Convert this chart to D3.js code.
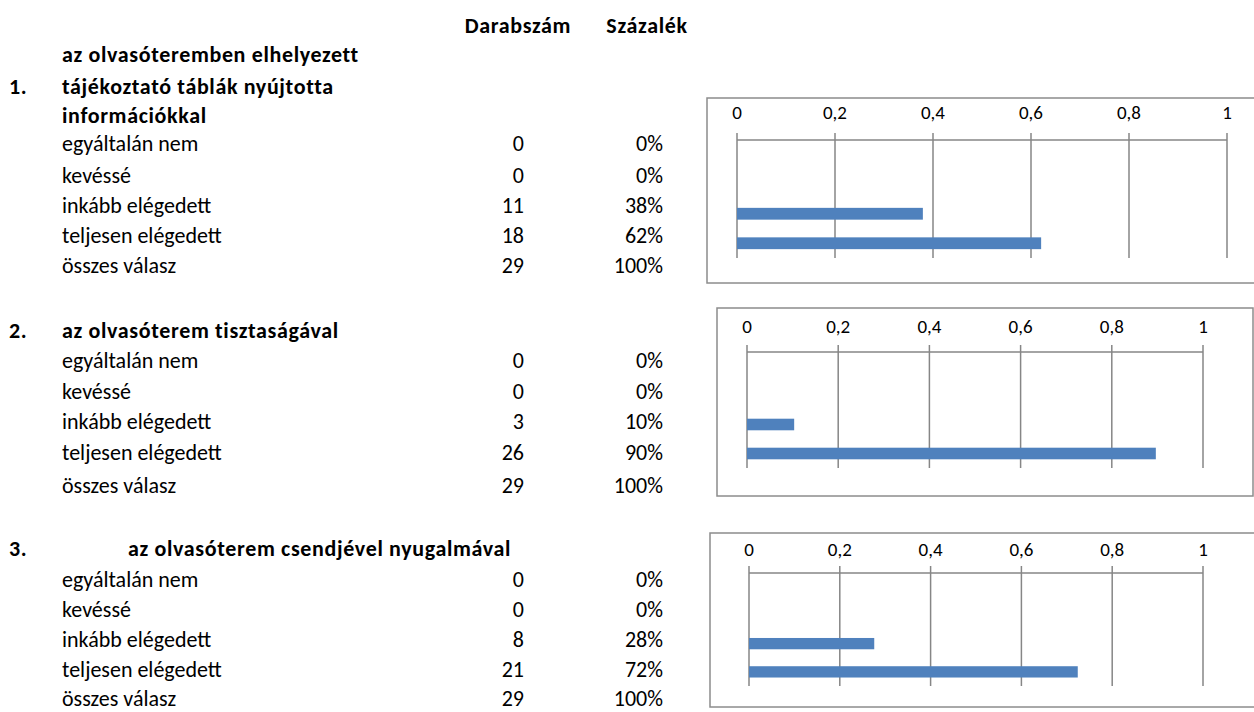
<!DOCTYPE html>
<html>
<head>
<meta charset="utf-8">
<script src="https://cdn.jsdelivr.net/npm/d3@7"></script>
<style>
  body { margin: 0; background: #fff; }
  svg { display: block; font-family: Carlito, Calibri, Lato, 'Liberation Sans', sans-serif; }
  .bold { font-weight: bold; letter-spacing: 0.65px; }
</style>
</head>
<body>
<div id="chart"></div>
<script>
const categories = ["egyáltalán nem", "kevéssé", "inkább elégedett", "teljesen elégedett"]
const totalLabel = "összes válasz"
const headers = ["Darabszám", "Százalék"]
const questionNumbers = ["1.", "2.", "3."]
const questionTitles = [
    ["az olvasóteremben elhelyezett", "tájékoztató táblák nyújtotta", "információkkal"],
    ["az olvasóterem tisztaságával"],
    ["az olvasóterem csendjével nyugalmával"]
]
const counts = [
    [0, 0, 11, 18],
    [0, 0, 3, 26],
    [0, 0, 8, 21]
]
const totals = [29, 29, 29]
const percentLabels = [
    ["0%", "0%", "38%", "62%"],
    ["0%", "0%", "10%", "90%"],
    ["0%", "0%", "28%", "72%"]
]
const xTicks = [0, 0.2, 0.4, 0.6, 0.8, 1]

const BAR_COLOR = "#4f81bd"
const GRID_COLOR = "#868686"
const FONT_SIZE = 22

var width = 1254, height = 712;

var svg = d3.select("#chart").append("svg")
    .attr("width", width)
    .attr("height", height);

// layout of each block: where the table rows and the little chart sit
var blocks = [
    { titleY: [54, 86, 115], titleX: 62, numY: 86, rowY: [143, 175, 205, 235, 265],
      box: [707, 98, 560, 185], x0: 737, x1: 1227, labelY: 112, axisY: 140, gridBottom: 258 },
    { titleY: [330], titleX: 62, numY: 330, rowY: [360, 391, 421, 452, 485],
      box: [717, 308, 536, 188], x0: 747, x1: 1203, labelY: 326, axisY: 352, gridBottom: 468 },
    { titleY: [548], titleX: 128, numY: 548, rowY: [579, 609, 639, 669, 698],
      box: [710, 533, 560, 174], x0: 749, x1: 1203, labelY: 549, axisY: 573, gridBottom: 686 }
];

// column headers
svg.selectAll(".header")
    .data(headers)
    .enter().append("text")
    .attr("class", "header bold")
    .attr("x", (d, i) => [518, 647][i])
    .attr("y", 25)
    .attr("dy", "0.35em")
    .attr("text-anchor", "middle")
    .style("font-size", FONT_SIZE + "px")
    .text(d => d);

blocks.forEach(function (b, q) {
    var g = svg.append("g");

    g.append("text")
        .attr("class", "bold")
        .attr("x", 9).attr("y", b.numY).attr("dy", "0.35em")
        .style("font-size", FONT_SIZE + "px")
        .text(questionNumbers[q]);

    g.selectAll(".title")
        .data(questionTitles[q])
        .enter().append("text")
        .attr("class", "title bold")
        .attr("x", b.titleX)
        .attr("y", (d, i) => b.titleY[i])
        .attr("dy", "0.35em")
        .style("font-size", FONT_SIZE + "px")
        .text(d => d);

    var rows = categories.map((c, i) => ({ name: c, n: counts[q][i], pct: percentLabels[q][i] }));
    rows.push({ name: totalLabel, n: totals[q], pct: "100%" });

    var row = g.selectAll(".row")
        .data(rows)
        .enter().append("g")
        .attr("transform", (d, i) => "translate(0," + b.rowY[i] + ")");

    row.append("text").attr("x", 62).attr("dy", "0.35em")
        .style("font-size", FONT_SIZE + "px").text(d => d.name);
    row.append("text").attr("x", 524).attr("dy", "0.35em").attr("text-anchor", "end")
        .style("font-size", FONT_SIZE + "px").text(d => d.n);
    row.append("text").attr("x", 663).attr("dy", "0.35em").attr("text-anchor", "end")
        .style("font-size", FONT_SIZE + "px").text(d => d.pct);

    // chart frame
    g.append("rect")
        .attr("x", b.box[0]).attr("y", b.box[1])
        .attr("width", b.box[2]).attr("height", b.box[3])
        .attr("fill", "none").attr("stroke", "#8c8c8c").attr("stroke-width", 1.5);

    var x = d3.scaleLinear().domain([0, 1]).range([b.x0, b.x1]);
    var y = d3.scaleBand().domain(categories).range([b.axisY, b.gridBottom]).paddingInner(0.6).paddingOuter(0.3);

    // gridlines with short tick stubs above the axis
    g.selectAll(".grid")
        .data(xTicks)
        .enter().append("line")
        .attr("x1", d => x(d)).attr("x2", d => x(d))
        .attr("y1", b.axisY - 7).attr("y2", b.gridBottom)
        .attr("stroke", GRID_COLOR).attr("stroke-width", 1.5);

    g.append("line")
        .attr("x1", x(0)).attr("x2", x(1))
        .attr("y1", b.axisY).attr("y2", b.axisY)
        .attr("stroke", GRID_COLOR).attr("stroke-width", 1.5);

    g.selectAll(".tick")
        .data(xTicks)
        .enter().append("text")
        .attr("x", d => x(d)).attr("y", b.labelY).attr("dy", "0.35em")
        .attr("text-anchor", "middle")
        .style("font-size", "19px")
        .text(d => String(d).replace(".", ","));

    g.selectAll(".bar")
        .data(rows.slice(0, 4))
        .enter().append("rect")
        .attr("x", x(0))
        .attr("y", d => y(d.name))
        .attr("width", d => x(d.n / totals[q]) - x(0))
        .attr("height", y.bandwidth())
        .attr("fill", BAR_COLOR);
});
</script>
</body>
</html>
